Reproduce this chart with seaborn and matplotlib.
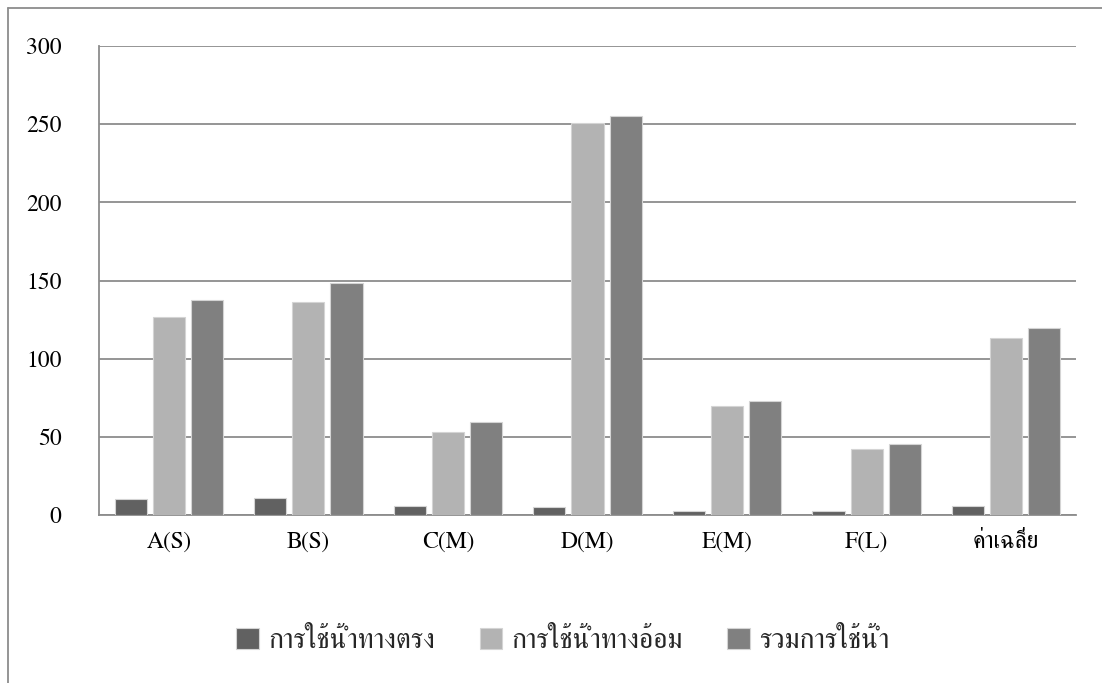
import matplotlib
matplotlib.use("Agg")
import matplotlib.pyplot as plt
from matplotlib.lines import Line2D
import pandas as pd
import seaborn as sns

# Water use per site (S/M/L = site size) and the average
categories = ["A(S)", "B(S)", "C(M)", "D(M)", "E(M)", "F(L)", "ค่าเฉลี่ย"]
direct_use = [10.2, 11.0, 5.8, 5.0, 2.8, 2.8, 6.0]
indirect_use = [126.5, 136.5, 53.4, 250.5, 69.6, 42.3, 113.0]
total_use = [137.4, 148.1, 59.2, 255.5, 72.7, 45.2, 119.6]
series_names = ["การใช้น้ำทางตรง", "การใช้น้ำทางอ้อม", "รวมการใช้น้ำ"]
y_ticks = [0, 50, 100, 150, 200, 250, 300]

colors = ["#616161", "#b3b3b3", "#808080"]
grid_color = "#8c8c8c"

sns.set_theme(style="white")
# FreeSerif covers both Latin and Thai in a Times-like face
plt.rcParams["font.family"] = ["FreeSerif", "Liberation Serif", "DejaVu Sans"]

df = pd.DataFrame({
    "category": categories * 3,
    "series": sum([[s] * len(categories) for s in series_names], []),
    "value": direct_use + indirect_use + total_use,
})

fig = plt.figure(figsize=(11.02, 6.83), dpi=100)
ax = fig.add_axes([99 / 1102, 1 - 515 / 683, (1076 - 99) / 1102, (515 - 46) / 683])

sns.barplot(data=df, x="category", y="value", hue="series", order=categories,
            hue_order=series_names, palette=colors, width=0.82, gap=0.16,
            edgecolor="#d4d4d4", linewidth=0.8, ax=ax, zorder=3)

ax.set_ylim(0, 300)
ax.set_yticks(y_ticks)
ax.set_xlim(-0.5, len(categories) - 0.5)
ax.yaxis.grid(True, color=grid_color, linewidth=1.3, zorder=0)
ax.set_axisbelow(True)
ax.set_xlabel("")
ax.set_ylabel("")
for side in ["top", "right"]:
    ax.spines[side].set_visible(False)
for side in ["left", "bottom"]:
    ax.spines[side].set_color(grid_color)
    ax.spines[side].set_linewidth(1.3)
ax.tick_params(axis="y", length=0, pad=27, labelsize=17, labelcolor="black")
ax.tick_params(axis="x", length=0, pad=12, labelsize=17, labelcolor="black")

handles, labels = ax.get_legend_handles_labels()
ax.legend_.remove()
fig.legend(handles, labels, loc="center", bbox_to_anchor=(563 / 1102, 1 - 641 / 683),
           ncol=3, frameon=False, fontsize=20, handlelength=0.8, handleheight=0.8,
           handletextpad=0.35, columnspacing=1.6, borderaxespad=0)

# chart-area border along the top and left edges
fig.add_artist(Line2D([8 / 1102, 1], [1 - 8 / 683, 1 - 8 / 683], transform=fig.transFigure,
                      color=grid_color, linewidth=1.3))
fig.add_artist(Line2D([8 / 1102, 8 / 1102], [0, 1 - 8 / 683], transform=fig.transFigure,
                      color=grid_color, linewidth=1.3))

fig.savefig("out.png", dpi=100)
